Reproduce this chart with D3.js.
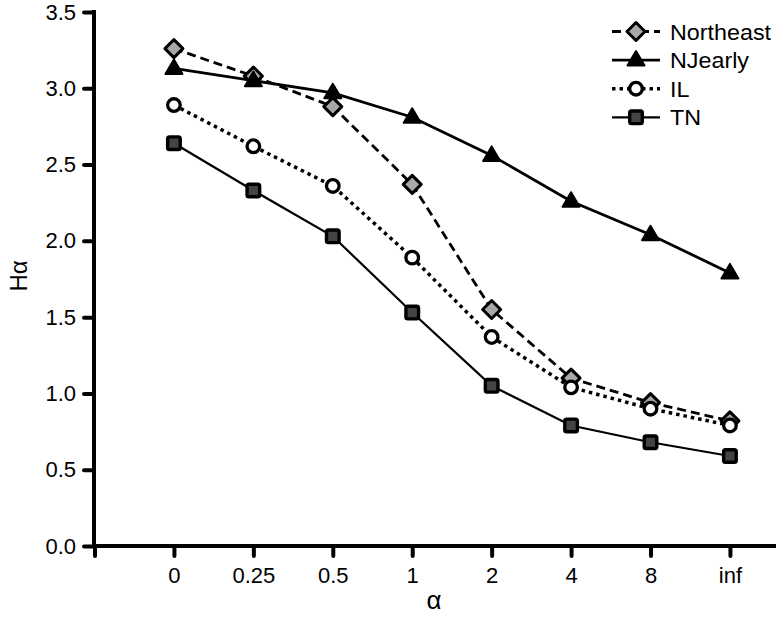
<!DOCTYPE html>
<html><head><meta charset="utf-8">
<script src="https://cdn.jsdelivr.net/npm/d3@7"></script>
<style>body{margin:0;background:#fff}svg{display:block;font-family:"Liberation Sans",Arial,sans-serif}</style>
</head><body>
<script>
const categories = ["0","0.25","0.5","1","2","4","8","inf"];
const northeast = [3.26,3.08,2.88,2.37,1.55,1.10,0.94,0.82];
const njearly = [3.13,3.05,2.97,2.81,2.56,2.26,2.04,1.79];
const il = [2.89,2.62,2.36,1.89,1.37,1.04,0.90,0.79];
const tn = [2.64,2.33,2.03,1.53,1.05,0.79,0.68,0.59];
const yTicks = [0,0.5,1,1.5,2,2.5,3,3.5];

const W=776,H=617;
const svg=d3.select("body").append("svg").attr("width",W).attr("height",H);
const x=d3.scaleLinear().domain([-1,categories.length-1+0.58]).range([94.5,776]);
const y=d3.scaleLinear().domain([0,3.5]).range([546,12]);
const FS=22;

// axes
const yAxis=svg.append("g").attr("transform","translate(94,0)")
  .call(d3.axisLeft(y).tickValues(yTicks).tickFormat(d3.format(".1f")).tickSize(10).tickPadding(8));
const xAxis=svg.append("g").attr("transform","translate(0,546)")
  .call(d3.axisBottom(x).tickValues(d3.range(-1,categories.length)).tickFormat(i=>i<0?"":categories[i]).tickSize(10).tickPadding(11));
[yAxis,xAxis].forEach(g=>{
  g.select(".domain").attr("stroke","#000").attr("stroke-width",4);
  g.selectAll(".tick line").attr("stroke","#000").attr("stroke-width",4).attr("stroke-linecap","round");
  g.selectAll(".tick text").attr("font-size",FS).attr("fill","#000").attr("font-family","Liberation Sans, Arial, sans-serif");
});
xAxis.select(".domain").attr("d","M94,0H776");
yAxis.select(".domain").attr("d","M0,10V546");

svg.append("text").attr("x",434).attr("y",609).attr("text-anchor","middle").attr("font-size",26).text("α");
svg.append("text").attr("transform","translate(27,276) rotate(-90)").attr("text-anchor","middle").attr("font-size",24).text("Hα");

const series=[
  {name:"Northeast",vals:northeast,dash:"9,5",lw:2.8,marker:"diamond"},
  {name:"NJearly",vals:njearly,dash:null,lw:2.8,marker:"triangle"},
  {name:"IL",vals:il,dash:"3.5,4",lw:3.5,marker:"circle"},
  {name:"TN",vals:tn,dash:null,lw:2.2,marker:"square"}
];
function drawMarker(g,type,cx,cy){
  if(type==="diamond"){
    g.append("path").attr("d",`M${cx},${cy-9}L${cx+9},${cy}L${cx},${cy+9}L${cx-9},${cy}Z`)
      .attr("fill","#a8a8a8").attr("stroke","#000").attr("stroke-width",3).attr("stroke-linejoin","round");
  } else if(type==="triangle"){
    g.append("path").attr("d",`M${cx},${cy-9}L${cx+8.5},${cy+5.5}L${cx-8.5},${cy+5.5}Z`)
      .attr("fill","#000").attr("stroke","#000").attr("stroke-width",2).attr("stroke-linejoin","round");
  } else if(type==="circle"){
    g.append("circle").attr("cx",cx).attr("cy",cy).attr("r",6.3)
      .attr("fill","#fff").attr("stroke","#000").attr("stroke-width",3.3);
  } else {
    g.append("rect").attr("x",cx-6.3).attr("y",cy-6.3).attr("width",12.6).attr("height",12.6).attr("rx",1.8)
      .attr("fill","#444").attr("stroke","#000").attr("stroke-width",3.4);
  }
}
const line=d3.line().x((d,i)=>x(i)).y(d=>y(d));
series.forEach(s=>{
  const g=svg.append("g");
  g.append("path").attr("d",line(s.vals)).attr("fill","none").attr("stroke","#000")
    .attr("stroke-width",s.lw).attr("stroke-dasharray",s.dash);
  s.vals.forEach((v,i)=>drawMarker(g,s.marker,x(i),y(v)));
});

// legend
const lg=svg.append("g");
series.forEach((s,k)=>{
  const yy=31.5+k*28.6;
  lg.append("line").attr("x1",612).attr("x2",660).attr("y1",yy).attr("y2",yy).attr("stroke","#000")
    .attr("stroke-width",s.lw).attr("stroke-dasharray",s.dash);
  drawMarker(lg,s.marker,636,yy);
  lg.append("text").attr("transform",`translate(670,${yy+8}) scale(1.06,1)`).attr("font-size",FS).text(s.name);
});
</script>
</body></html>
